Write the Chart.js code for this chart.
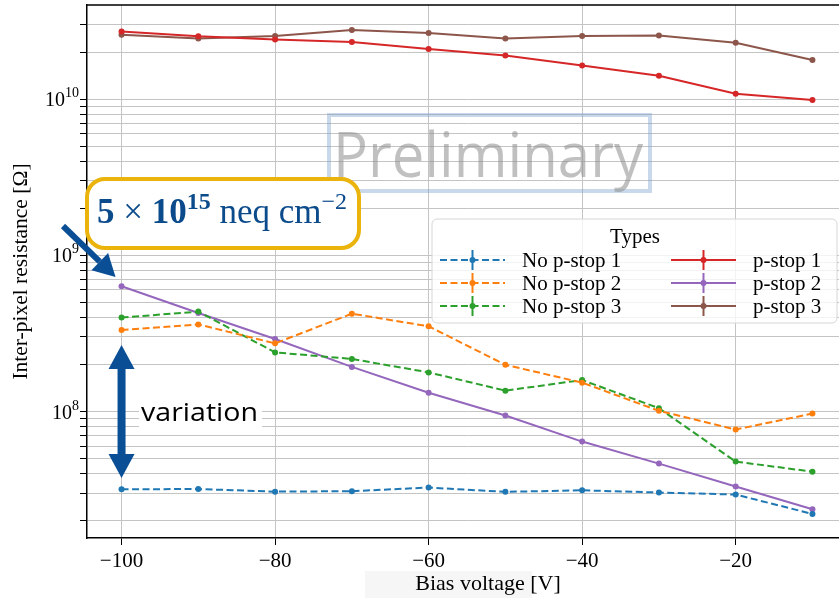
<!DOCTYPE html>
<html>
<head>
<meta charset="utf-8">
<script src="https://cdn.jsdelivr.net/npm/chart.js@4.4.0/dist/chart.umd.min.js"></script>
<style>
  html, body { margin: 0; padding: 0; background: #fff; overflow: hidden; }
  #wrap { width: 860px; height: 598px; }
</style>
</head>
<body>
<div id="wrap"><canvas id="chart"></canvas></div>
<script>
// bias voltage steps [V]
const biasVoltage = [-100, -90, -80, -70, -60, -50, -40, -30, -20, -10];

// inter-pixel resistance [Ohm]
const noPstop1 = [3.18e7, 3.19e7, 3.07e7, 3.09e7, 3.26e7, 3.06e7, 3.13e7, 3.03e7, 2.94e7, 2.21e7];
const noPstop2 = [3.32e8, 3.61e8, 2.73e8, 4.23e8, 3.51e8, 1.99e8, 1.53e8, 1.01e8, 7.67e7, 9.70e7];
const noPstop3 = [3.99e8, 4.36e8, 2.39e8, 2.17e8, 1.78e8, 1.36e8, 1.59e8, 1.05e8, 4.78e7, 4.12e7];
const pstop1 = [2.71e10, 2.52e10, 2.41e10, 2.32e10, 2.09e10, 1.90e10, 1.64e10, 1.41e10, 1.08e10, 0.985e10];
const pstop2 = [6.33e8, 4.27e8, 2.91e8, 1.93e8, 1.32e8, 9.42e7, 6.42e7, 4.64e7, 3.31e7, 2.37e7];
const pstop3 = [2.58e10, 2.44e10, 2.53e10, 2.77e10, 2.65e10, 2.44e10, 2.53e10, 2.55e10, 2.29e10, 1.78e10];

const seriesNames = ['No p-stop 1', 'No p-stop 2', 'No p-stop 3', 'p-stop 1', 'p-stop 2', 'p-stop 3'];
const seriesColors = ['#1f77b4', '#ff7f0e', '#2ca02c', '#d62728', '#9467bd', '#8c564b'];

const xTickValues = [-100, -80, -60, -40, -20];
const yDecades = [1e7, 1e8, 1e9, 1e10];
const yLabelExponents = [8, 9, 10];

const serif = '"Liberation Serif", "DejaVu Serif", serif';
const DASH = [7, 3.5];

function makeDataset(i, values) {
    const dashed = i < 3;
    return {
        label: seriesNames[i],
        data: biasVoltage.map((v, k) => ({ x: v, y: values[k] })),
        borderColor: seriesColors[i],
        backgroundColor: seriesColors[i],
        borderWidth: 2,
        borderDash: dashed ? DASH : [],
        pointRadius: 3,
        pointHoverRadius: 3,
        pointBorderWidth: 0,
        tension: 0
    };
}

const allSeries = [noPstop1, noPstop2, noPstop3, pstop1, pstop2, pstop3];
const datasets = allSeries.map((vals, i) => makeDataset(i, vals));

function drawLegend(ctx) {
    const x0 = 432, y0 = 219, w = 405, h = 104;
    ctx.save();
    ctx.beginPath();
    ctx.roundRect(x0, y0, w, h, 5);
    ctx.fillStyle = 'rgba(255,255,255,0.8)';
    ctx.fill();
    ctx.strokeStyle = '#d6d6d6';
    ctx.lineWidth = 1;
    ctx.stroke();

    ctx.fillStyle = '#000';
    ctx.font = '21px ' + serif;
    ctx.textAlign = 'center';
    ctx.textBaseline = 'alphabetic';
    ctx.fillText('Types', 635, 243);

    ctx.textAlign = 'left';
    ctx.textBaseline = 'middle';
    const cols = [{ line: 440, text: 522 }, { line: 671, text: 753 }];
    const rows = [260, 283, 306];
    datasets.forEach((ds, i) => {
        const c = cols[Math.floor(i / 3)];
        const y = rows[i % 3];
        ctx.strokeStyle = ds.borderColor;
        ctx.lineWidth = 2;
        ctx.setLineDash(ds.borderDash);
        ctx.beginPath();
        ctx.moveTo(c.line, y);
        ctx.lineTo(c.line + 65, y);
        ctx.stroke();
        ctx.setLineDash([]);
        // error bar marker
        ctx.beginPath();
        ctx.moveTo(c.line + 32.5, y - 10);
        ctx.lineTo(c.line + 32.5, y + 10);
        ctx.stroke();
        ctx.fillStyle = ds.borderColor;
        ctx.beginPath();
        ctx.arc(c.line + 32.5, y, 3, 0, Math.PI * 2);
        ctx.fill();
        ctx.fillStyle = '#000';
        ctx.font = '21px ' + serif;
        ctx.fillText(ds.label, c.text, y + 1);
    });
    ctx.restore();
}

function drawWatermark(ctx) {
    ctx.save();
    ctx.strokeStyle = 'rgba(120,160,205,0.4)';
    ctx.lineWidth = 4;
    ctx.strokeRect(329, 115, 321, 76);
    ctx.font = '62px "Open Sans", "Noto Sans", sans-serif';
    const tw = ctx.measureText('Preliminary').width;
    const sx = 310 / tw;
    ctx.translate(333, 177);
    ctx.scale(sx, 1);
    ctx.fillStyle = 'rgba(140,140,140,0.55)';
    ctx.textBaseline = 'alphabetic';
    ctx.fillText('Preliminary', 0, 0);
    ctx.restore();
}

function drawFluenceBox(ctx) {
    ctx.save();
    ctx.beginPath();
    ctx.roundRect(87, 179, 272, 69, 18);
    ctx.fillStyle = '#fff';
    ctx.fill();
    ctx.strokeStyle = '#eab40c';
    ctx.lineWidth = 4;
    ctx.stroke();

    const blue = '#0b4a8b';
    ctx.fillStyle = blue;
    ctx.textBaseline = 'alphabetic';
    let x = 97;
    const base = 223;
    const parts = [
        { t: '5', f: 'bold 35px', dy: 0 },
        { t: ' \u00d7 ', f: '35px', dy: 0 },
        { t: '10', f: 'bold 35px', dy: 0 },
        { t: '15', f: 'bold 24px', dy: -14 },
        { t: ' neq cm', f: '35px', dy: 0 },
        { t: '\u22122', f: '24px', dy: -14 }
    ];
    parts.forEach(p => {
        ctx.font = p.f + ' ' + serif;
        ctx.fillText(p.t, x, base + p.dy);
        x += ctx.measureText(p.t).width;
    });
    ctx.restore();
}

function drawArrows(ctx, chart) {
    const xs = chart.scales.x;
    const blue = '#0a4f96';
    ctx.save();
    ctx.fillStyle = blue;
    ctx.strokeStyle = blue;

    // diagonal arrow pointing at the first p-stop 2 point
    const tipX = xs.getPixelForValue(-100) - 6, tipY = 277;
    const tailX = 63, tailY = 226;
    const ang = Math.atan2(tipY - tailY, tipX - tailX);
    const headLen = 22, headW = 12;
    const bx = tipX - headLen * Math.cos(ang), by = tipY - headLen * Math.sin(ang);
    ctx.lineWidth = 6;
    ctx.beginPath();
    ctx.moveTo(tailX, tailY);
    ctx.lineTo(bx, by);
    ctx.stroke();
    ctx.beginPath();
    ctx.moveTo(tipX, tipY);
    ctx.lineTo(bx + headW * Math.sin(ang), by - headW * Math.cos(ang));
    ctx.lineTo(bx - headW * Math.sin(ang), by + headW * Math.cos(ang));
    ctx.closePath();
    ctx.fill();

    // vertical double arrow
    const cx = xs.getPixelForValue(-100);
    const top = 345, bottom = 478, hh = 24, hw = 13;
    ctx.fillRect(cx - 4, top + hh - 2, 8, bottom - top - 2 * hh + 4);
    ctx.beginPath();
    ctx.moveTo(cx, top);
    ctx.lineTo(cx + hw, top + hh);
    ctx.lineTo(cx - hw, top + hh);
    ctx.closePath();
    ctx.fill();
    ctx.beginPath();
    ctx.moveTo(cx, bottom);
    ctx.lineTo(cx + hw, bottom - hh);
    ctx.lineTo(cx - hw, bottom - hh);
    ctx.closePath();
    ctx.fill();

    // "variation" label
    ctx.fillStyle = '#fff';
    ctx.fillRect(139, 396, 123, 33);
    ctx.fillStyle = '#000';
    ctx.font = '26px "Open Sans", "Noto Sans", sans-serif';
    const tw = ctx.measureText('variation').width;
    ctx.translate(141, 421);
    ctx.scale(117 / tw, 1);
    ctx.fillText('variation', 0, 0);
    ctx.restore();
}

// y tick labels as 10 with a raised exponent
function drawYLabels(ctx, chart) {
    const ys = chart.scales.y;
    const right = ys.right - 8;
    ctx.save();
    ctx.fillStyle = '#000';
    ctx.textBaseline = 'alphabetic';
    ctx.textAlign = 'left';
    yLabelExponents.forEach(e => {
        const y = ys.getPixelForValue(Math.pow(10, e));
        ctx.font = '14px ' + serif;
        const expW = ctx.measureText(String(e)).width;
        ctx.font = '20px ' + serif;
        const baseW = ctx.measureText('10').width;
        const x = right - expW - baseW;
        ctx.fillText('10', x, y + 7);
        ctx.font = '14px ' + serif;
        ctx.fillText(String(e), x + baseW, y - 2);
    });
    ctx.restore();
}

const overlayPlugin = {
    id: 'overlay',
    afterDatasetsDraw(chart) {
        const ctx = chart.ctx;
        const area = chart.chartArea;
        ctx.save();
        // top and right spines
        ctx.strokeStyle = '#000';
        ctx.lineWidth = 1.5;
        ctx.beginPath();
        ctx.moveTo(area.left, area.top);
        ctx.lineTo(area.right, area.top);
        ctx.lineTo(area.right, area.bottom);
        ctx.stroke();
        ctx.restore();

        drawYLabels(ctx, chart);
        drawWatermark(ctx);
        drawLegend(ctx);
        drawFluenceBox(ctx);
        drawArrows(ctx, chart);

        // x axis title with its light patch
        ctx.save();
        ctx.fillStyle = '#f6f6f6';
        ctx.fillRect(365, 571, 167, 27);
        ctx.fillStyle = '#000';
        ctx.font = '22px ' + serif;
        ctx.textAlign = 'center';
        ctx.textBaseline = 'alphabetic';
        ctx.fillText('Bias voltage [V]', 488, 590);
        ctx.restore();
    }
};

new Chart(document.getElementById('chart'), {
    type: 'line',
    data: { datasets: datasets },
    options: {
        responsive: true,
        maintainAspectRatio: false,
        animation: false,
        events: [],
        layout: { padding: { top: 5, right: 13, bottom: 0, left: 0 } },
        plugins: {
            legend: { display: false },
            tooltip: { enabled: false }
        },
        scales: {
            x: {
                type: 'linear',
                min: -104.5,
                max: -5.5,
                afterBuildTicks: scale => {
                    scale.ticks = xTickValues.map(v => ({ value: v }));
                },
                afterFit: scale => {
                    scale.height = 60;
                    scale.paddingLeft = 0;
                    scale.paddingRight = 0;
                },
                ticks: {
                    color: '#000',
                    font: { family: serif, size: 21 },
                    padding: 4,
                    maxRotation: 0,
                    callback: v => '\u2212' + Math.abs(v)
                },
                grid: { color: '#c4c4c4', lineWidth: 1, tickColor: '#000', tickLength: 7 },
                border: { color: '#000', width: 1.5 }
            },
            y: {
                type: 'logarithmic',
                min: 1.55e7,
                max: 4.0e10,
                afterBuildTicks: scale => {
                    const ticks = [];
                    yDecades.forEach(d => {
                        for (let m = 1; m <= 9; m++) {
                            const v = m * d;
                            if (v >= scale.min && v < scale.max * 0.99) ticks.push({ value: v, major: m === 1 });
                        }
                    });
                    scale.ticks = ticks;
                },
                afterFit: scale => {
                    scale.width = 87;
                    scale.paddingTop = 0;
                    scale.paddingBottom = 0;
                },
                ticks: {
                    color: '#000',
                    font: { family: serif, size: 20 },
                    padding: 3,
                    autoSkip: false,
                    // labels are drawn by the overlay plugin, keep grid lines
                    callback: () => ''
                },
                grid: {
                    color: '#c4c4c4',
                    lineWidth: 1,
                    tickColor: '#000',
                    tickLength: 7
                },
                border: { color: '#000', width: 1.5 },
                title: {
                    display: true,
                    text: 'Inter-pixel resistance [\u03a9]',
                    color: '#000',
                    font: { family: serif, size: 21.5 },
                    padding: { top: 8, bottom: 0 }
                }
            }
        }
    },
    plugins: [overlayPlugin]
});
</script>
</body>
</html>
